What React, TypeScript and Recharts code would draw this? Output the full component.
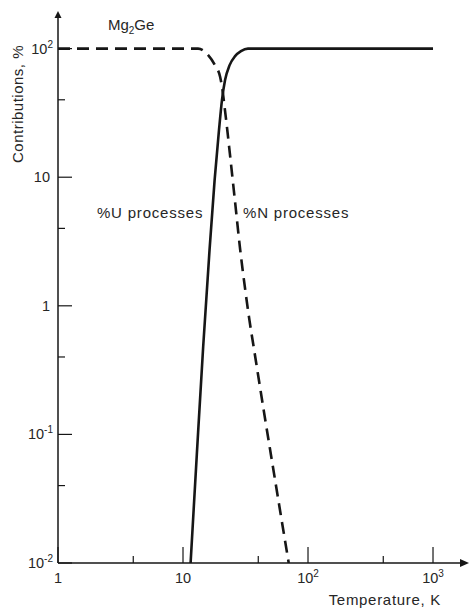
import React from 'react';
import { LineChart, Line, XAxis, YAxis, ReferenceDot } from 'recharts';

// Umklapp (U) contribution, % vs temperature, K
const uTemperature = [11.5, 12.9, 14.5, 16.3, 17.9, 19.4, 20.5, 21.7, 23.6, 26.1, 29.1, 33.1, 1000];
const uShare = [0.01, 0.07, 0.48, 2.71, 9.49, 23.2, 39.8, 56.9, 74.4, 87.4, 95.6, 100, 100];

// Normal (N) contribution, % vs temperature, K
const nTemperature = [1, 13.2, 15.9, 18.0, 19.8, 20.7, 21.5, 22.3, 23.7, 26.0, 28.7, 31.5, 34.0, 37.1, 44.2, 53.4, 62.1, 70.1];
const nShare = [100, 100, 89, 74.4, 60.4, 47.6, 35.3, 26.2, 15.3, 6.64, 2.71, 1.32, 0.774, 0.452, 0.1545, 0.05, 0.0204, 0.01];

// Axis ticks and their labels (base, exponent)
const xMajorTicks = [1, 10, 100, 1000];
const xMinorTicks = [4, 40, 400];
const yMajorTicks = [0.01, 0.1, 1, 10, 100];
const yMinorTicks = [0.04, 0.4, 4, 40];
const xTickLabels: Record<string, [string, string]> = {
  '1': ['1', ''],
  '10': ['10', ''],
  '100': ['10', '2'],
  '1000': ['10', '3'],
};
const yTickLabels: Record<string, [string, string]> = {
  '0.01': ['10', '-2'],
  '0.1': ['10', '-1'],
  '1': ['1', ''],
  '10': ['10', ''],
  '100': ['10', '2'],
};

// Axis extents (the axes run a little past the last decade, ending in arrows)
const X_MIN = 1;
const X_MAX = 1644;
const Y_MIN = 0.01;
const Y_MAX = 173;

const FONT = '"Liberation Sans", Arial, sans-serif';
const INK = '#161616';
const TEXT = '#262626';

const uData = uTemperature.map((t, i) => ({ t, share: uShare[i] }));
const nData = nTemperature.map((t, i) => ({ t, share: nShare[i] }));

const XTick = (props: any) => {
  const { x, y, payload } = props;
  const key = String(payload.value);
  const major = xMajorTicks.includes(payload.value);
  const lab = xTickLabels[key];
  return (
    <g>
      <line x1={x} x2={x} y1={y} y2={y - (major ? 16 : 7)} stroke={INK} strokeWidth={1.2} />
      {lab && (
        <text x={x} y={y + 20} textAnchor="middle" fontFamily={FONT} fontSize={14.5} fill={TEXT}>
          {lab[0]}
          {lab[1] && (
            <tspan dy={-6} fontSize={10}>
              {lab[1]}
            </tspan>
          )}
        </text>
      )}
    </g>
  );
};

const YTick = (props: any) => {
  const { x, y, payload } = props;
  const key = String(payload.value);
  const major = yMajorTicks.includes(payload.value);
  const lab = yTickLabels[key];
  return (
    <g>
      <line x1={x} x2={x + (major ? 14 : 7)} y1={y} y2={y} stroke={INK} strokeWidth={1.2} />
      {lab && (
        <text
          x={lab[1] ? x - 5 : x - 8}
          y={y + 5}
          textAnchor="end"
          fontFamily={FONT}
          fontSize={14.5}
          fill={TEXT}
        >
          {lab[0]}
          {lab[1] && (
            <tspan dy={-6} fontSize={10}>
              {lab[1]}
            </tspan>
          )}
        </text>
      )}
    </g>
  );
};

const XTitle = (props: any) => {
  const vb = props.viewBox;
  return (
    <text
      x={vb.x + vb.width - 19}
      y={vb.y + 42}
      textAnchor="end"
      fontFamily={FONT}
      fontSize={15}
      letterSpacing={0.7}
      fill={TEXT}
    >
      Temperature, K
    </text>
  );
};

const YTitle = (props: any) => {
  const vb = props.viewBox;
  const cx = vb.x + 17;
  const cy = vb.y + 86;
  return (
    <text
      x={cx}
      y={cy}
      transform={`rotate(-90 ${cx} ${cy})`}
      textAnchor="middle"
      dominantBaseline="central"
      fontFamily={FONT}
      fontSize={15}
      letterSpacing={0.5}
      fill={TEXT}
    >
      Contributions, %
    </text>
  );
};

const ArrowRight = (p: any) => (
  <polygon points={`${p.cx},${p.cy - 4} ${p.cx + 9},${p.cy} ${p.cx},${p.cy + 4}`} fill={INK} />
);

const ArrowUp = (p: any) => (
  <polygon points={`${p.cx - 3.5},${p.cy} ${p.cx},${p.cy - 7} ${p.cx + 3.5},${p.cy}`} fill={INK} />
);

const Note = (text: string) => (p: any) => (
  <text
    x={p.cx}
    y={p.cy}
    dominantBaseline="central"
    fontFamily={FONT}
    fontSize={15}
    letterSpacing={0.8}
    fill={TEXT}
  >
    {text}
  </text>
);

const Formula = (p: any) => (
  <text x={p.cx} y={p.cy} fontFamily={FONT} fontSize={15} fill={TEXT}>
    Mg
    <tspan dy={4} fontSize={10}>
      2
    </tspan>
    <tspan dy={-4}>Ge</tspan>
  </text>
);

export default function App() {
  return (
    <div style={{ width: 470, height: 610, background: '#fff' }}>
      <style>{'body{margin:0;}'}</style>
      <LineChart width={470} height={610} margin={{ top: 18, right: 10, bottom: 0, left: 0 }}>
        <XAxis
          xAxisId="t"
          type="number"
          dataKey="t"
          scale="log"
          domain={[X_MIN, X_MAX]}
          allowDataOverflow
          ticks={[...xMajorTicks, ...xMinorTicks].sort((a, b) => a - b)}
          interval={0}
          tickSize={0}
          tickMargin={0}
          tickLine={false}
          tick={<XTick />}
          axisLine={{ stroke: INK, strokeWidth: 1.5 }}
          height={47}
          label={XTitle}
        />
        <YAxis
          yAxisId="p"
          type="number"
          dataKey="share"
          scale="log"
          domain={[Y_MIN, Y_MAX]}
          allowDataOverflow
          ticks={[...yMajorTicks, ...yMinorTicks].sort((a, b) => a - b)}
          interval={0}
          tickSize={0}
          tickMargin={0}
          tickLine={false}
          tick={<YTick />}
          axisLine={{ stroke: INK, strokeWidth: 1.5 }}
          width={58}
          label={YTitle}
        />
        <Line
          xAxisId="t"
          yAxisId="p"
          data={nData}
          dataKey="share"
          type="monotone"
          stroke={INK}
          strokeWidth={2.6}
          strokeDasharray="12 7"
          dot={false}
          activeDot={false}
          isAnimationActive={false}
        />
        <Line
          xAxisId="t"
          yAxisId="p"
          data={uData}
          dataKey="share"
          type="monotone"
          stroke={INK}
          strokeWidth={2.6}
          dot={false}
          activeDot={false}
          isAnimationActive={false}
        />
        <ReferenceDot xAxisId="t" yAxisId="p" x={X_MAX} y={Y_MIN} ifOverflow="visible" shape={ArrowRight} />
        <ReferenceDot xAxisId="t" yAxisId="p" x={X_MIN} y={Y_MAX} ifOverflow="visible" shape={ArrowUp} />
        <ReferenceDot xAxisId="t" yAxisId="p" x={2.51} y={139} ifOverflow="visible" shape={Formula} />
        <ReferenceDot xAxisId="t" yAxisId="p" x={2.05} y={5.35} ifOverflow="visible" shape={Note('%U processes')} />
        <ReferenceDot xAxisId="t" yAxisId="p" x={30.2} y={5.35} ifOverflow="visible" shape={Note('%N processes')} />
      </LineChart>
    </div>
  );
}
